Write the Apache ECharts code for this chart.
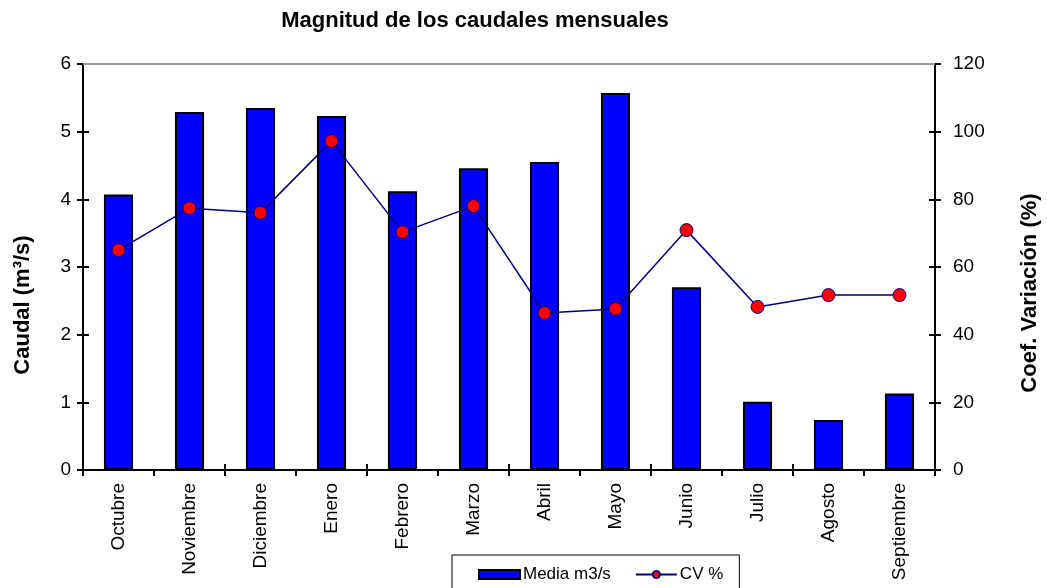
<!DOCTYPE html>
<html>
<head>
<meta charset="utf-8">
<script src="https://cdn.jsdelivr.net/npm/echarts@6/dist/echarts.min.js"></script>
<style>
  html, body { margin: 0; padding: 0; background: #fff; }
  #chart { width: 1047px; height: 588px; }
</style>
</head>
<body>
<div id="chart"></div>
<script>
const months = ["Octubre", "Noviembre", "Diciembre", "Enero", "Febrero", "Marzo", "Abril", "Mayo", "Junio", "Julio", "Agosto", "Septiembre"];
const caudalMedio = [4.07, 5.29, 5.35, 5.23, 4.12, 4.46, 4.55, 5.57, 2.70, 1.01, 0.74, 1.13];
const coefVariacion = [65.0, 77.4, 76.0, 97.2, 70.3, 78.0, 46.4, 47.6, 70.9, 48.2, 51.7, 51.7];

const font = "Liberation Sans, Arial, sans-serif";
const black = "#000";
const chart = echarts.init(document.getElementById("chart"), null, { renderer: "canvas" });

// extra tick-only axes so ticks cross the axis line, like the original
const innerTicks = { show: true, length: 6, inside: true, lineStyle: { color: black, width: 2 } };
const outerTicks = { show: true, length: 6, lineStyle: { color: black, width: 2 } };

chart.setOption({
  animation: false,
  textStyle: { fontFamily: font },
  title: {
    text: "Magnitud de los caudales mensuales",
    left: 470,
    top: 5,
    textAlign: "center",
    textStyle: { fontSize: 22, fontWeight: "bold", color: black, fontFamily: font },
  },
  graphic: [
    {
      type: "text",
      x: 23,
      y: 305,
      rotation: Math.PI / 2,
      style: {
        text: "Caudal (m³/s)",
        font: "bold 22px " + font,
        fill: black,
        align: "center",
        verticalAlign: "middle",
      },
    },
    {
      type: "text",
      x: 1030,
      y: 293,
      rotation: Math.PI / 2,
      style: {
        text: "Coef. Variación (%)",
        font: "bold 22px " + font,
        fill: black,
        align: "center",
        verticalAlign: "middle",
      },
    },
  ],
  grid: { left: 83, right: 112, top: 64, bottom: 118 },
  legend: {
    left: 452,
    top: 555,
    width: 260,
    padding: [11, 16, 14, 26],
    itemGap: 24,
    itemWidth: 41,
    itemHeight: 9,
    borderColor: black,
    borderWidth: 1,
    textStyle: { fontSize: 17, color: black, fontFamily: font, padding: [0, 0, 0, -2] },
    data: [{ name: "Media m3/s", icon: "rect" }, "CV %"],
  },
  xAxis: [
    {
      type: "category",
      data: months,
      axisLine: { lineStyle: { color: black, width: 2 } },
      axisTick: outerTicks,
      axisLabel: { rotate: 90, color: black, fontSize: 19, margin: 13, fontFamily: font },
    },
    {
      type: "category",
      data: months,
      position: "bottom",
      axisLine: { show: false },
      axisTick: innerTicks,
      axisLabel: { show: false },
    },
  ],
  yAxis: [
    {
      type: "value",
      min: 0,
      max: 6,
      interval: 1,
      axisLine: { show: true, lineStyle: { color: black, width: 2 } },
      axisTick: outerTicks,
      axisLabel: { color: black, fontSize: 19, margin: 12, fontFamily: font },
      splitLine: { show: false },
    },
    {
      type: "value",
      min: 0,
      max: 120,
      interval: 20,
      axisLine: { show: true, lineStyle: { color: black, width: 2 } },
      axisTick: outerTicks,
      axisLabel: { color: black, fontSize: 19, margin: 18, fontFamily: font },
      splitLine: { show: false },
    },
    {
      type: "value",
      position: "left",
      min: 0,
      max: 6,
      interval: 1,
      axisLine: { show: false },
      axisTick: innerTicks,
      axisLabel: { show: false },
      splitLine: { show: false },
    },
    {
      type: "value",
      position: "right",
      min: 0,
      max: 120,
      interval: 20,
      axisLine: { show: false },
      axisTick: innerTicks,
      axisLabel: { show: false },
      splitLine: { show: false },
    },
  ],
  series: [
    {
      name: "Media m3/s",
      type: "bar",
      yAxisIndex: 0,
      barWidth: "41%",
      data: caudalMedio,
      itemStyle: { color: "#0000ff", borderColor: black, borderWidth: 2 },
      markLine: {
        silent: true,
        symbol: "none",
        label: { show: false },
        lineStyle: { color: "#999", width: 2, type: "solid" },
        data: [{ yAxis: 6 }],
      },
    },
    {
      name: "CV %",
      type: "line",
      yAxisIndex: 1,
      data: coefVariacion,
      symbol: "circle",
      symbolSize: 13,
      lineStyle: { color: "#000080", width: 1.5 },
      itemStyle: { color: "#ff0000", borderColor: "#000080", borderWidth: 1 },
    },
  ],
});
</script>
</body>
</html>
